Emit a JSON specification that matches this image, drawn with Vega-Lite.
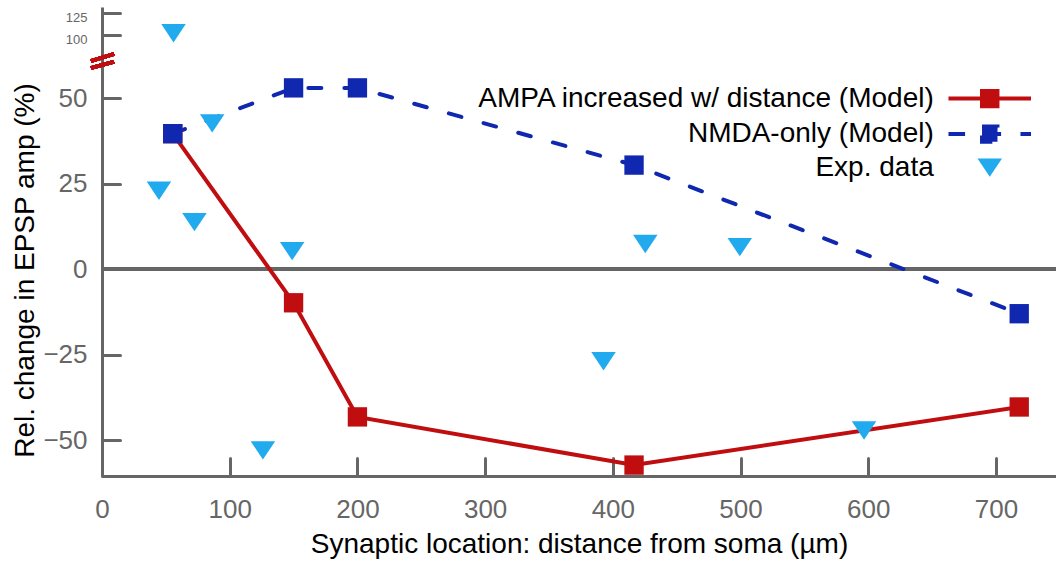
{
  "$schema": "https://vega.github.io/schema/vega-lite/v6.json",
  "width": 954,
  "height": 469,
  "autosize": {"type": "none"},
  "padding": {"left": 102, "top": 7, "right": 0, "bottom": 85},
  "background": "white",
  "config": {
    "view": {"stroke": null},
    "font": "Liberation Sans",
    "axis": {
      "grid": false,
      "domainColor": "#666666",
      "domainWidth": 3,
      "tickColor": "#666666",
      "tickWidth": 3,
      "tickSize": -18,
      "tickCap": "round",
      "labelColor": "#666666",
      "labelFont": "Liberation Sans",
      "labelFontSize": 26,
      "titleFont": "Liberation Sans",
      "titleFontSize": 28,
      "titleFontWeight": "normal",
      "titleColor": "#000000"
    }
  },
  "data": {
    "values": [
      {"series": "AMPA increased w/ distance (Model)", "dist": 55.4, "change": 39.7},
      {"series": "AMPA increased w/ distance (Model)", "dist": 150, "change": -9.8},
      {"series": "AMPA increased w/ distance (Model)", "dist": 200, "change": -43.2},
      {"series": "AMPA increased w/ distance (Model)", "dist": 416.6, "change": -57.3},
      {"series": "AMPA increased w/ distance (Model)", "dist": 718.2, "change": -40.3},
      {"series": "NMDA-only (Model)", "dist": 55.4, "change": 39.7},
      {"series": "NMDA-only (Model)", "dist": 150, "change": 53.1},
      {"series": "NMDA-only (Model)", "dist": 200, "change": 53.1},
      {"series": "NMDA-only (Model)", "dist": 416.6, "change": 30.5},
      {"series": "NMDA-only (Model)", "dist": 718.2, "change": -13.0},
      {"series": "Exp. data", "dist": 56.0, "change": 102},
      {"series": "Exp. data", "dist": 86.3, "change": 42.7},
      {"series": "Exp. data", "dist": 44.6, "change": 23.0},
      {"series": "Exp. data", "dist": 72.4, "change": 13.8},
      {"series": "Exp. data", "dist": 148.9, "change": 5.3},
      {"series": "Exp. data", "dist": 126.0, "change": -53.0},
      {"series": "Exp. data", "dist": 425.4, "change": 7.4},
      {"series": "Exp. data", "dist": 499.4, "change": 6.5},
      {"series": "Exp. data", "dist": 392.7, "change": -26.9},
      {"series": "Exp. data", "dist": 596.7, "change": -47.2}
    ]
  },
  "encoding": {
    "x": {
      "field": "dist", "type": "quantitative",
      "scale": {"domain": [0, 747], "nice": false, "zero": false},
      "axis": {
        "values": [0, 100, 200, 300, 400, 500, 600, 700],
        "labelPadding": 38,
        "labelFlush": false,
        "labelOverlap": false,
        "title": "Synaptic location: distance from soma (µm)",
        "titleBaseline": "alphabetic",
        "titleY": 76
      }
    },
    "y": {
      "field": "change", "type": "quantitative",
      "scale": {"domain": [-60.5, 60, 100, 132.3], "range": [469, 57.3, 28, 0], "nice": false, "zero": false},
      "axis": {
        "values": [-50, -25, 0, 25, 50, 100, 125],
        "labelPadding": 33,
        "labelFlush": false,
        "labelOverlap": false,
        "labelFontSize": {"condition": {"test": "datum.value >= 90", "value": 13}, "value": 26},
        "labelOffset": {"condition": {"test": "datum.value >= 90", "value": 4}, "value": 0},
        "title": "Rel. change in EPSP amp (%)",
        "titleAngle": 270,
        "titleBaseline": "alphabetic",
        "titleAlign": "center",
        "titleX": -69,
        "titleY": 263
      }
    }
  },
  "layer": [
    {
      "mark": {"type": "rule", "color": "#666666", "strokeWidth": 3},
      "encoding": {"y": {"datum": 0}, "x": null}
    },
    {
      "transform": [{"filter": "datum.series === 'AMPA increased w/ distance (Model)'"}],
      "mark": {"type": "line", "color": "#c00e10", "strokeWidth": 4}
    },
    {
      "transform": [{"filter": "datum.series === 'NMDA-only (Model)'"}],
      "mark": {"type": "line", "color": "#1028b0", "strokeWidth": 4, "strokeDash": [13, 23], "strokeCap": "round"}
    },
    {
      "transform": [{"filter": "datum.series !== 'Exp. data'"}],
      "mark": {"type": "point", "filled": true, "size": 600, "opacity": 1, "shape": "M-0.79,-0.79L0.79,-0.79L0.79,0.79L-0.79,0.79Z"},
      "encoding": {
        "color": {
          "field": "series", "type": "nominal",
          "scale": {
            "domain": ["AMPA increased w/ distance (Model)", "NMDA-only (Model)", "Exp. data"],
            "range": ["#c00e10", "#1028b0", "#22aaee"]
          },
          "legend": {
            "title": null,
            "orient": "none",
            "legendX": 873.75,
            "legendY": 77.6,
            "padding": 0,
            "rowPadding": 3.5,
            "symbolSize": 600,
            "symbolOffset": 0,
            "symbolType": {"expr": "datum.value == 'Exp. data' ? 'M-1,-0.75L1,-0.75L0,0.75Z' : 'M-3.37,0L3.37,0M-0.63,-0.63L0.63,-0.63L0.63,0.63L-0.63,0.63Z'"},
            "symbolStrokeColor": {"expr": "datum.value == 'Exp. data' ? '#22aaee' : datum.value == 'NMDA-only (Model)' ? '#1028b0' : '#c00e10'"},
            "symbolStrokeWidth": {"expr": "datum.value == 'Exp. data' ? 0 : 4"},
            "symbolDash": {"expr": "datum.value == 'NMDA-only (Model)' ? [16.6, 19.4] : [1, 0]"},
            "symbolOpacity": 1,
            "labelFont": "Liberation Sans",
            "labelFontSize": 28,
            "labelColor": "#000000",
            "labelAlign": "right",
            "labelOffset": -70,
            "labelLimit": 0
          }
        }
      }
    },
    {
      "transform": [{"filter": "datum.series === 'Exp. data'"}],
      "mark": {"type": "point", "filled": true, "size": 600, "opacity": 1, "shape": "M-1,-0.75L1,-0.75L0,0.75Z"},
      "encoding": {
        "color": {"field": "series", "type": "nominal"}
      }
    },
    {
      "mark": {"type": "rule", "color": "#c00e10", "strokeWidth": 3.5},
      "encoding": {"x": {"datum": -8.6}, "x2": {"datum": 9.4}, "y": {"datum": 58.9}, "y2": {"datum": 63.5}}
    },
    {
      "mark": {"type": "rule", "color": "#c00e10", "strokeWidth": 3.5},
      "encoding": {"x": {"datum": -8.6}, "x2": {"datum": 9.4}, "y": {"datum": 64.5}, "y2": {"datum": 74}}
    }
  ]
}
